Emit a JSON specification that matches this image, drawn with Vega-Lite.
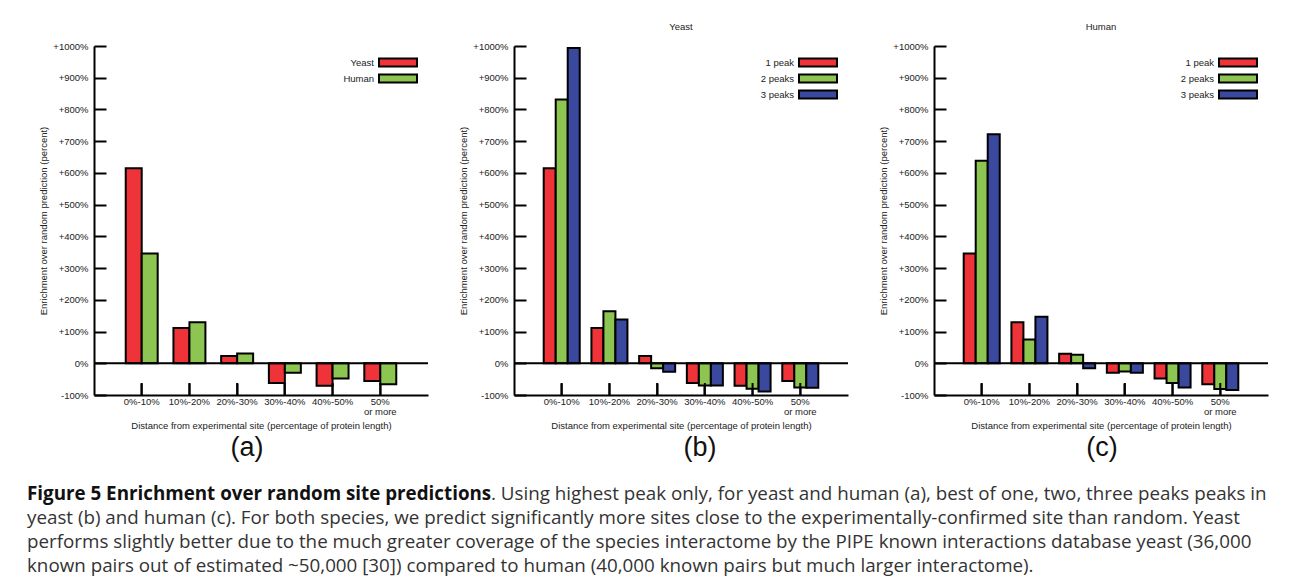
{
  "$schema": "https://vega.github.io/schema/vega-lite/v6.json",
  "background": "white",
  "padding": {"left": 27, "top": 21, "right": 0, "bottom": 0},
  "spacing": 21,
  "config": {
    "view": {"stroke": null},
    "font": "Liberation Sans",
    "title": {"font": "Liberation Sans", "fontSize": 9.5, "fontWeight": "normal", "color": "#222", "offset": 10},
    "axis": {"grid": false, "ticks": false, "labelOverlap": false, "labelFlush": false, "domainColor": "black", "domainWidth": 2, "tickColor": "black", "tickWidth": 2, "tickSize": 12, "labelFont": "Liberation Sans", "labelFontSize": 9.5, "labelColor": "#222", "titleFont": "Liberation Sans", "titleFontSize": 9.5, "titleFontWeight": "normal", "titleColor": "#222"},
    "legend": {"orient": "top-right", "offset": 7, "padding": 0, "labelAlign": "right", "labelOffset": -29, "symbolType": "M-4.75,-1H4.75V1H-4.75Z", "symbolSize": 64, "symbolStrokeColor": "black", "symbolStrokeWidth": 2, "symbolOpacity": 1, "rowPadding": 0, "labelFont": "Liberation Sans", "labelFontSize": 9.5, "labelColor": "#222", "titleFontSize": 4, "titlePadding": 0.5}
  },
  "datasets": {
    "a": [
      {"cat": "0%-10%", "series": "Yeast", "value": 615},
      {"cat": "0%-10%", "series": "Human", "value": 346},
      {"cat": "10%-20%", "series": "Yeast", "value": 111},
      {"cat": "10%-20%", "series": "Human", "value": 129},
      {"cat": "20%-30%", "series": "Yeast", "value": 23},
      {"cat": "20%-30%", "series": "Human", "value": 31},
      {"cat": "30%-40%", "series": "Yeast", "value": -62},
      {"cat": "30%-40%", "series": "Human", "value": -30},
      {"cat": "40%-50%", "series": "Yeast", "value": -71},
      {"cat": "40%-50%", "series": "Human", "value": -48},
      {"cat": "50% or more", "series": "Yeast", "value": -56},
      {"cat": "50% or more", "series": "Human", "value": -66}
    ],
    "b": [
      {"cat": "0%-10%", "series": "1 peak", "value": 615},
      {"cat": "0%-10%", "series": "2 peaks", "value": 831},
      {"cat": "0%-10%", "series": "3 peaks", "value": 994},
      {"cat": "10%-20%", "series": "1 peak", "value": 111},
      {"cat": "10%-20%", "series": "2 peaks", "value": 164},
      {"cat": "10%-20%", "series": "3 peaks", "value": 138},
      {"cat": "20%-30%", "series": "1 peak", "value": 23},
      {"cat": "20%-30%", "series": "2 peaks", "value": -16},
      {"cat": "20%-30%", "series": "3 peaks", "value": -27},
      {"cat": "30%-40%", "series": "1 peak", "value": -62},
      {"cat": "30%-40%", "series": "2 peaks", "value": -70},
      {"cat": "30%-40%", "series": "3 peaks", "value": -70},
      {"cat": "40%-50%", "series": "1 peak", "value": -71},
      {"cat": "40%-50%", "series": "2 peaks", "value": -80},
      {"cat": "40%-50%", "series": "3 peaks", "value": -89},
      {"cat": "50% or more", "series": "1 peak", "value": -56},
      {"cat": "50% or more", "series": "2 peaks", "value": -76},
      {"cat": "50% or more", "series": "3 peaks", "value": -77}
    ],
    "c": [
      {"cat": "0%-10%", "series": "1 peak", "value": 346},
      {"cat": "0%-10%", "series": "2 peaks", "value": 638},
      {"cat": "0%-10%", "series": "3 peaks", "value": 722},
      {"cat": "10%-20%", "series": "1 peak", "value": 129},
      {"cat": "10%-20%", "series": "2 peaks", "value": 75},
      {"cat": "10%-20%", "series": "3 peaks", "value": 147},
      {"cat": "20%-30%", "series": "1 peak", "value": 30},
      {"cat": "20%-30%", "series": "2 peaks", "value": 27},
      {"cat": "20%-30%", "series": "3 peaks", "value": -16},
      {"cat": "30%-40%", "series": "1 peak", "value": -30},
      {"cat": "30%-40%", "series": "2 peaks", "value": -26},
      {"cat": "30%-40%", "series": "3 peaks", "value": -30},
      {"cat": "40%-50%", "series": "1 peak", "value": -48},
      {"cat": "40%-50%", "series": "2 peaks", "value": -62},
      {"cat": "40%-50%", "series": "3 peaks", "value": -76},
      {"cat": "50% or more", "series": "1 peak", "value": -66},
      {"cat": "50% or more", "series": "2 peaks", "value": -81},
      {"cat": "50% or more", "series": "3 peaks", "value": -84}
    ],
    "cats": [
      {"cat": "0%-10%"}, {"cat": "10%-20%"}, {"cat": "20%-30%"}, {"cat": "30%-40%"}, {"cat": "40%-50%"}, {"cat": "50% or more"}
    ],
    "zero": [{"v": 0}],
    "caption": [
      {"line": 1, "part": "head", "text": "Figure 5 Enrichment over random site predictions"},
      {"line": 1, "part": "tail", "text": ". Using highest peak only, for yeast and human (a), best of one, two, three peaks peaks in"},
      {"line": 2, "part": "body", "text": "yeast (b) and human (c). For both species, we predict significantly more sites close to the experimentally-confirmed site than random. Yeast"},
      {"line": 3, "part": "body", "text": "performs slightly better due to the much greater coverage of the species interactome by the PIPE known interactions database yeast (36,000"},
      {"line": 4, "part": "body", "text": "known pairs out of estimated ~50,000 [30]) compared to human (40,000 known pairs but much larger interactome)."}
    ]
  },
  "vconcat": [
    {
      "spacing": 29,
      "resolve": {"scale": {"color": "independent", "x": "independent", "y": "independent", "xOffset": "independent"}, "legend": {"color": "independent"}},
      "hconcat": [
        {
          "title": {"text": "(a)", "orient": "bottom", "anchor": "middle", "frame": "group", "dx": 153, "fontSize": 27, "offset": 5, "color": "#111"},
          "resolve": {"scale": {"color": "independent", "xOffset": "independent"}, "legend": {"color": "independent"}},
          "vconcat": [
            {
              "title": " ",
              "width": 334, "height": 349,
              "resolve": {"axis": {"x": "independent", "y": "independent"}},
              "layer": [
                {
                  "data": {"name": "a"},
                  "mark": {"type": "bar", "stroke": "black", "strokeWidth": 2},
                  "encoding": {
                    "x": {"field": "cat", "type": "nominal", "sort": ["0%-10%", "10%-20%", "20%-30%", "30%-40%", "40%-50%", "50% or more"], "scale": {"paddingInner": 0.33, "paddingOuter": 0.665}, "title": "Distance from experimental site (percentage of protein length)", "axis": {"labelAngle": 0, "labelPadding": 1, "titlePadding": 5, "labelLineHeight": 10, "labelExpr": "datum.value == '50% or more' ? ['50%', 'or more'] : datum.value"}},
                    "xOffset": {"field": "series", "type": "nominal", "sort": ["Yeast", "Human"], "scale": {"domain": ["Yeast", "Human"], "paddingInner": 0, "paddingOuter": 0}},
                    "y": {"field": "value", "type": "quantitative", "scale": {"domain": [-100, 1000], "nice": false}, "title": "Enrichment over random prediction (percent)", "axis": {"values": [-100, 0, 100, 200, 300, 400, 500, 600, 700, 800, 900, 1000], "labelOverlap": false, "labelPadding": 6, "titlePadding": 4, "labelExpr": "(datum.value > 0 ? '+' : '') + datum.value + '%'"}},
                    "color": {"field": "series", "type": "nominal", "sort": ["Yeast", "Human"], "scale": {"domain": ["Yeast", "Human"], "range": ["#EE3438", "#8CC552"]}, "legend": {"title": " "}}
                  }
                },
                {
                  "data": {"name": "zero"},
                  "mark": {"type": "rule", "color": "black", "strokeWidth": 2},
                  "encoding": {"y": {"field": "v", "type": "quantitative", "scale": {"domain": [-100, 1000], "nice": false}, "axis": {"orient": "left", "offset": -12, "ticks": true, "tickSize": 12, "labels": false, "domain": false, "title": null, "values": [-100, 0, 100, 200, 300, 400, 500, 600, 700, 800, 900, 1000]}}}
                },
                {
                  "data": {"name": "cats"},
                  "mark": {"type": "rule", "color": "black", "strokeWidth": 2},
                  "encoding": {
                    "x": {"field": "cat", "type": "nominal", "sort": ["0%-10%", "10%-20%", "20%-30%", "30%-40%", "40%-50%", "50% or more"], "axis": {"orient": "bottom", "offset": -12, "ticks": true, "tickSize": 12, "labels": false, "domain": false, "title": null}},
                    "y": {"datum": -100, "axis": null},
                    "y2": {"datum": -62.2}
                  }
                }
              ]
            }
          ]
        },
        {
          "title": {"text": "(b)", "orient": "bottom", "anchor": "middle", "frame": "group", "dx": 186, "fontSize": 27, "offset": 5, "color": "#111"},
          "resolve": {"scale": {"color": "independent", "xOffset": "independent"}, "legend": {"color": "independent"}},
          "vconcat": [
            {
              "title": "Yeast",
              "width": 334, "height": 349,
              "resolve": {"axis": {"x": "independent", "y": "independent"}},
              "layer": [
                {
                  "data": {"name": "b"},
                  "mark": {"type": "bar", "stroke": "black", "strokeWidth": 2},
                  "encoding": {
                    "x": {"field": "cat", "type": "nominal", "sort": ["0%-10%", "10%-20%", "20%-30%", "30%-40%", "40%-50%", "50% or more"], "scale": {"paddingInner": 0.245, "paddingOuter": 0.6225}, "title": "Distance from experimental site (percentage of protein length)", "axis": {"labelAngle": 0, "labelPadding": 1, "titlePadding": 5, "labelLineHeight": 10, "labelExpr": "datum.value == '50% or more' ? ['50%', 'or more'] : datum.value"}},
                    "xOffset": {"field": "series", "type": "nominal", "sort": ["1 peak", "2 peaks", "3 peaks"], "scale": {"domain": ["1 peak", "2 peaks", "3 peaks"], "paddingInner": 0, "paddingOuter": 0}},
                    "y": {"field": "value", "type": "quantitative", "scale": {"domain": [-100, 1000], "nice": false}, "title": "Enrichment over random prediction (percent)", "axis": {"values": [-100, 0, 100, 200, 300, 400, 500, 600, 700, 800, 900, 1000], "labelOverlap": false, "labelPadding": 6, "titlePadding": 4, "labelExpr": "(datum.value > 0 ? '+' : '') + datum.value + '%'"}},
                    "color": {"field": "series", "type": "nominal", "sort": ["1 peak", "2 peaks", "3 peaks"], "scale": {"domain": ["1 peak", "2 peaks", "3 peaks"], "range": ["#EE3438", "#8CC552", "#3A489D"]}, "legend": {"title": " "}}
                  }
                },
                {
                  "data": {"name": "zero"},
                  "mark": {"type": "rule", "color": "black", "strokeWidth": 2},
                  "encoding": {"y": {"field": "v", "type": "quantitative", "scale": {"domain": [-100, 1000], "nice": false}, "axis": {"orient": "left", "offset": -12, "ticks": true, "tickSize": 12, "labels": false, "domain": false, "title": null, "values": [-100, 0, 100, 200, 300, 400, 500, 600, 700, 800, 900, 1000]}}}
                },
                {
                  "data": {"name": "cats"},
                  "mark": {"type": "rule", "color": "black", "strokeWidth": 2},
                  "encoding": {
                    "x": {"field": "cat", "type": "nominal", "sort": ["0%-10%", "10%-20%", "20%-30%", "30%-40%", "40%-50%", "50% or more"], "axis": {"orient": "bottom", "offset": -12, "ticks": true, "tickSize": 12, "labels": false, "domain": false, "title": null}},
                    "y": {"datum": -100, "axis": null},
                    "y2": {"datum": -62.2}
                  }
                }
              ]
            }
          ]
        },
        {
          "title": {"text": "(c)", "orient": "bottom", "anchor": "middle", "frame": "group", "dx": 168, "fontSize": 27, "offset": 5, "color": "#111"},
          "resolve": {"scale": {"color": "independent", "xOffset": "independent"}, "legend": {"color": "independent"}},
          "vconcat": [
            {
              "title": "Human",
              "width": 334, "height": 349,
              "resolve": {"axis": {"x": "independent", "y": "independent"}},
              "layer": [
                {
                  "data": {"name": "c"},
                  "mark": {"type": "bar", "stroke": "black", "strokeWidth": 2},
                  "encoding": {
                    "x": {"field": "cat", "type": "nominal", "sort": ["0%-10%", "10%-20%", "20%-30%", "30%-40%", "40%-50%", "50% or more"], "scale": {"paddingInner": 0.245, "paddingOuter": 0.6225}, "title": "Distance from experimental site (percentage of protein length)", "axis": {"labelAngle": 0, "labelPadding": 1, "titlePadding": 5, "labelLineHeight": 10, "labelExpr": "datum.value == '50% or more' ? ['50%', 'or more'] : datum.value"}},
                    "xOffset": {"field": "series", "type": "nominal", "sort": ["1 peak", "2 peaks", "3 peaks"], "scale": {"domain": ["1 peak", "2 peaks", "3 peaks"], "paddingInner": 0, "paddingOuter": 0}},
                    "y": {"field": "value", "type": "quantitative", "scale": {"domain": [-100, 1000], "nice": false}, "title": "Enrichment over random prediction (percent)", "axis": {"values": [-100, 0, 100, 200, 300, 400, 500, 600, 700, 800, 900, 1000], "labelOverlap": false, "labelPadding": 6, "titlePadding": 4, "labelExpr": "(datum.value > 0 ? '+' : '') + datum.value + '%'"}},
                    "color": {"field": "series", "type": "nominal", "sort": ["1 peak", "2 peaks", "3 peaks"], "scale": {"domain": ["1 peak", "2 peaks", "3 peaks"], "range": ["#EE3438", "#8CC552", "#3A489D"]}, "legend": {"title": " "}}
                  }
                },
                {
                  "data": {"name": "zero"},
                  "mark": {"type": "rule", "color": "black", "strokeWidth": 2},
                  "encoding": {"y": {"field": "v", "type": "quantitative", "scale": {"domain": [-100, 1000], "nice": false}, "axis": {"orient": "left", "offset": -12, "ticks": true, "tickSize": 12, "labels": false, "domain": false, "title": null, "values": [-100, 0, 100, 200, 300, 400, 500, 600, 700, 800, 900, 1000]}}}
                },
                {
                  "data": {"name": "cats"},
                  "mark": {"type": "rule", "color": "black", "strokeWidth": 2},
                  "encoding": {
                    "x": {"field": "cat", "type": "nominal", "sort": ["0%-10%", "10%-20%", "20%-30%", "30%-40%", "40%-50%", "50% or more"], "axis": {"orient": "bottom", "offset": -12, "ticks": true, "tickSize": 12, "labels": false, "domain": false, "title": null}},
                    "y": {"datum": -100, "axis": null},
                    "y2": {"datum": -62.2}
                  }
                }
              ]
            }
          ]
        }
      ]
    },
    {
      "data": {"name": "caption"},
      "width": 1150,
      "height": {"step": 24},
      "layer": [
        {
          "transform": [{"filter": "datum.part == 'head'"}],
          "mark": {"type": "text", "align": "left", "baseline": "middle", "font": "Open Sans", "fontSize": 18.8, "fontWeight": "bold", "color": "#111", "dx": -67},
          "encoding": {"x": {"value": 0}, "y": {"field": "line", "type": "ordinal", "axis": null}, "text": {"field": "text"}}
        },
        {
          "transform": [{"filter": "datum.part == 'tail'"}],
          "mark": {"type": "text", "align": "left", "baseline": "middle", "font": "Open Sans", "fontSize": 18.8, "color": "#333", "dx": 397},
          "encoding": {"x": {"value": 0}, "y": {"field": "line", "type": "ordinal", "axis": null}, "text": {"field": "text"}}
        },
        {
          "transform": [{"filter": "datum.part == 'body'"}],
          "mark": {"type": "text", "align": "left", "baseline": "middle", "font": "Open Sans", "fontSize": 18.8, "color": "#333", "dx": -67},
          "encoding": {"x": {"value": 0}, "y": {"field": "line", "type": "ordinal", "axis": null}, "text": {"field": "text"}}
        }
      ]
    }
  ]
}
